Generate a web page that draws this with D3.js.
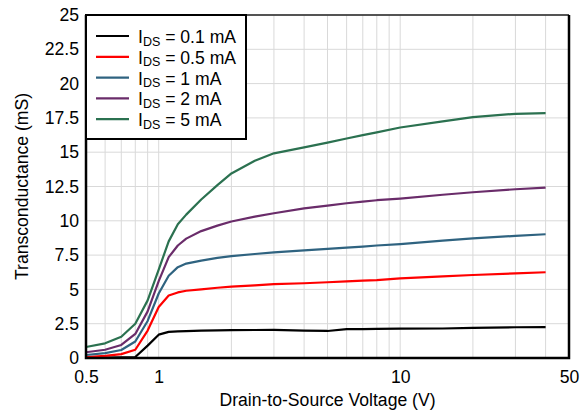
<!DOCTYPE html>
<html><head><meta charset="utf-8">
<script src="https://cdn.jsdelivr.net/npm/d3@7"></script>
<style>
html,body{margin:0;padding:0;background:#fff;}
text{font-family:"Liberation Sans",Arial,sans-serif;fill:#000;}
</style></head>
<body>
<svg id="chart" width="581" height="411"></svg>
<script>
const vds = [0.5,0.6,0.7,0.8,0.9,1.0,1.1,1.2,1.3,1.5,1.75,2,2.5,3,4,5,6,7,8,10,15,20,30,40];
const gm01 = [0.02,0.03,0.04,0.07,0.9,1.7,1.9,1.94,1.96,1.99,2.01,2.03,2.04,2.05,2.0,1.97,2.1,2.1,2.12,2.14,2.15,2.2,2.24,2.25];
const gm05 = [0.06,0.15,0.28,0.6,2.0,3.72,4.55,4.78,4.9,5.0,5.12,5.2,5.3,5.38,5.45,5.52,5.58,5.64,5.68,5.8,5.95,6.05,6.17,6.25];
const gm1  = [0.22,0.36,0.58,1.2,2.7,4.7,6.0,6.62,6.88,7.1,7.3,7.42,7.58,7.7,7.85,7.95,8.05,8.12,8.2,8.3,8.55,8.72,8.9,9.02];
const gm2  = [0.42,0.6,0.95,1.75,3.4,5.6,7.35,8.2,8.7,9.25,9.65,9.95,10.3,10.55,10.9,11.1,11.28,11.4,11.5,11.62,11.9,12.08,12.3,12.42];
const gm5  = [0.8,1.07,1.55,2.5,4.2,6.45,8.5,9.75,10.45,11.55,12.6,13.45,14.38,14.92,15.35,15.7,16.0,16.25,16.45,16.8,17.25,17.55,17.8,17.85];
const seriesLabels = ["0.1 mA","0.5 mA","1 mA","2 mA","5 mA"];
const seriesColors = ["#000000","#ff0000","#2f6380","#6a2c6a","#2b7150"];
const xTickLabels = [0.5,1,10,50];
const xGrid = [0.6,0.7,0.8,0.9,1,2,3,4,5,6,7,8,9,10,20,30,40];
const yTicks = [0,2.5,5,7.5,10,12.5,15,17.5,20,22.5,25];

const series = [gm01,gm05,gm1,gm2,gm5];
const svg = d3.select("#chart");
const L=86,R=569,T=15,B=358;
const FS = 17.6;
const x = d3.scaleLog().domain([0.5,50]).range([L,R]);
const y = d3.scaleLinear().domain([0,25]).range([B,T]);

// grid
svg.append("g").selectAll("line").data(xGrid).join("line")
  .attr("x1",d=>x(d)).attr("x2",d=>x(d)).attr("y1",T).attr("y2",B)
  .attr("stroke","#d9d9d9").attr("stroke-width",1);
svg.append("g").selectAll("line").data(yTicks).join("line")
  .attr("x1",L).attr("x2",R).attr("y1",d=>y(d)).attr("y2",d=>y(d))
  .attr("stroke","#d9d9d9").attr("stroke-width",1);

// lines
const line = d3.line().x((d,i)=>x(vds[i])).y(d=>y(d));
series.forEach((s,k)=>{
  svg.append("path").datum(s).attr("d",line).attr("fill","none")
    .attr("stroke",seriesColors[k]).attr("stroke-width",2.2).attr("stroke-linejoin","round");
});

// axes
const yAxis = d3.axisLeft(y).tickValues(yTicks).tickSize(0).tickPadding(7).tickFormat(d=>d);
const gy = svg.append("g").attr("transform",`translate(${L},0)`).call(yAxis);
gy.select(".domain").remove();
gy.selectAll("text").attr("font-size",FS).attr("font-family","Liberation Sans, Arial, sans-serif").attr("fill","#000");
const xAxis = d3.axisBottom(x).tickValues(xTickLabels).tickSize(0).tickPadding(13).tickFormat(d=>d);
const gx = svg.append("g").attr("transform",`translate(0,${B})`).call(xAxis);
gx.select(".domain").remove();
gx.selectAll("text").attr("font-size",FS).attr("font-family","Liberation Sans, Arial, sans-serif").attr("fill","#000");

// frame
svg.append("line").attr("x1",L).attr("x2",R).attr("y1",T).attr("y2",T).attr("stroke","#222").attr("stroke-width",1.5);
svg.append("path").attr("d",`M${L},${T}V${B}H${R}V${T}`).attr("fill","none").attr("stroke","#000").attr("stroke-width",2.5);

// titles
svg.append("text").attr("x",(L+R)/2).attr("y",406).attr("text-anchor","middle").attr("font-size",FS)
  .text("Drain-to-Source Voltage (V)");
svg.append("text").attr("transform",`translate(28,${(T+B)/2}) rotate(-90)`).attr("text-anchor","middle").attr("font-size",FS)
  .text("Transconductance (mS)");

// legend
const lg = svg.append("g");
lg.append("rect").attr("x",L).attr("y",T).attr("width",160).attr("height",124)
  .attr("fill","#fff").attr("stroke","#000").attr("stroke-width",2);
seriesLabels.forEach((lab,k)=>{
  const yy = 36 + k*20.8;
  lg.append("line").attr("x1",96).attr("x2",129).attr("y1",yy).attr("y2",yy)
    .attr("stroke",seriesColors[k]).attr("stroke-width",2.2);
  const t = lg.append("text").attr("x",138).attr("y",yy+7).attr("font-size",FS);
  t.append("tspan").text("I");
  t.append("tspan").attr("font-size",12.5).attr("dy",2.5).text("DS");
  t.append("tspan").attr("dy",-2.5).text(" = " + lab);
});
</script>
</body></html>
